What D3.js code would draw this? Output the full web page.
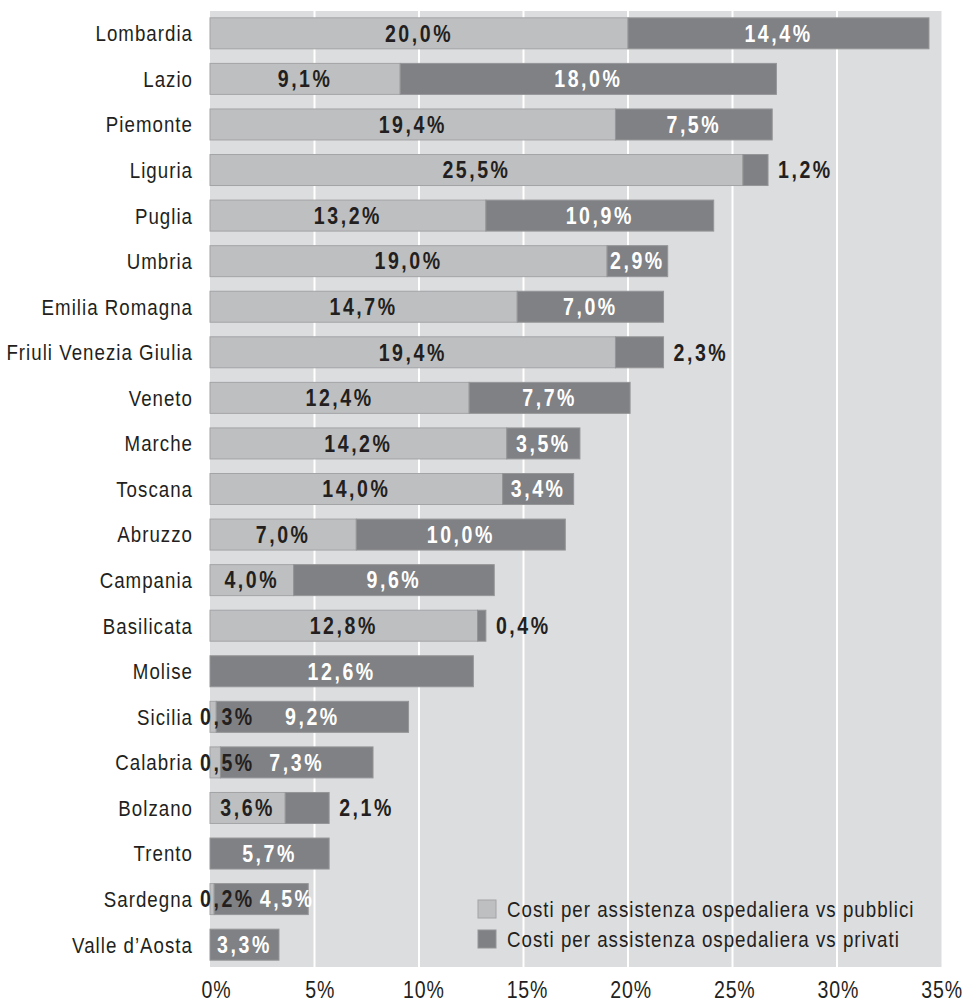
<!DOCTYPE html>
<html>
<head>
<meta charset="utf-8">
<script src="https://cdn.jsdelivr.net/npm/d3@7"></script>
<style>
  body { margin: 0; background: #fff; }
  text { font-family: "Liberation Sans", Arial, sans-serif; }
</style>
</head>
<body>
<script>
(function (d3) {
    'use strict';

    // dati
    var regioni = ['Lombardia', 'Lazio', 'Piemonte', 'Liguria', 'Puglia', 'Umbria',
        'Emilia Romagna', 'Friuli Venezia Giulia', 'Veneto', 'Marche', 'Toscana',
        'Abruzzo', 'Campania', 'Basilicata', 'Molise', 'Sicilia', 'Calabria',
        'Bolzano', 'Trento', 'Sardegna', 'Valle d\u2019Aosta'];
    var pubblici = [20.0, 9.1, 19.4, 25.5, 13.2, 19.0, 14.7, 19.4, 12.4, 14.2, 14.0,
        7.0, 4.0, 12.8, 0, 0.3, 0.5, 3.6, 0, 0.2, 0];
    var privati = [14.4, 18.0, 7.5, 1.2, 10.9, 2.9, 7.0, 2.3, 7.7, 3.5, 3.4,
        10.0, 9.6, 0.4, 12.6, 9.2, 7.3, 2.1, 5.7, 4.5, 3.3];
    var ticks = [0, 5, 10, 15, 20, 25, 30, 35];
    var legenda = ['Costi per assistenza ospedaliera vs pubblici',
        'Costi per assistenza ospedaliera vs privati'];

    var chiaro = '#bebfc1';
    var scuro = '#808184';
    var testo = '#231f20';
    var stretto = 0.85; // il font e' "condensed": schiaccio in orizzontale

    var width = 965, height = 1002;
    var svg = d3.select('body').append('svg')
        .attr('width', width)
        .attr('height', height);

    var data = regioni.map(function (r, i) {
        return { regione: r, pub: pubblici[i], priv: privati[i] };
    });

    var x = d3.scaleLinear().domain([0, 35]).range([210, 941.5]);
    var y = d3.scaleBand().domain(regioni).range([11, 967])
        .paddingInner(0.32).paddingOuter(0.15);

    var pos = function (px, py) {
        return 'translate(' + px + ',' + py + ') scale(' + stretto + ',1)';
    };

    // sfondo grigio
    svg.append('rect')
        .attr('x', x(0)).attr('y', 11)
        .attr('width', x(35) - x(0)).attr('height', 956)
        .attr('fill', '#dcdddf');

    // griglia bianca
    svg.selectAll('.grid').data(ticks.slice(1, -1))
        .enter().append('line')
        .attr('x1', function (d) { return x(d); })
        .attr('x2', function (d) { return x(d); })
        .attr('y1', 11).attr('y2', 967)
        .attr('stroke', '#fff').attr('stroke-width', 2);

    // etichette asse x
    svg.selectAll('.tick').data(ticks)
        .enter().append('text')
        .attr('transform', function (d) { return pos(x(d) + 6.5 - d * 0.17, 998); })
        .attr('text-anchor', 'middle')
        .style('font-size', '23px')
        .style('letter-spacing', '1px')
        .attr('fill', testo)
        .text(function (d) { return d + '%'; });

    // nomi delle regioni
    svg.selectAll('.cat').data(data)
        .enter().append('text')
        .attr('transform', function (d) { return pos(193, y(d.regione) + y.bandwidth() / 2); })
        .attr('dy', '0.36em')
        .attr('text-anchor', 'end')
        .style('font-size', '22px')
        .style('letter-spacing', '1.2px')
        .attr('fill', testo)
        .text(function (d) { return d.regione; });

    // barre
    var rows = svg.selectAll('.row').data(data)
        .enter().append('g')
        .attr('transform', function (d) { return 'translate(0,' + y(d.regione) + ')'; });

    rows.filter(function (d) { return d.pub > 0; })
        .append('rect')
        .attr('x', x(0))
        .attr('width', function (d) { return x(d.pub) - x(0); })
        .attr('height', y.bandwidth())
        .attr('fill', chiaro)
        .attr('stroke', '#a3a4a6').attr('stroke-width', 1);

    rows.append('rect')
        .attr('x', function (d) { return x(d.pub); })
        .attr('width', function (d) { return x(d.pub + d.priv) - x(d.pub); })
        .attr('height', y.bandwidth())
        .attr('fill', scuro)
        .attr('stroke', '#949597').attr('stroke-width', 1);

    var fmt = function (v) { return v.toFixed(1).replace('.', ',') + '%'; };
    var cy = y.bandwidth() / 2;

    var etichetta = function (g, s) {
        return g.append('text')
            .attr('dy', '0.36em')
            .style('font-size', '23px').style('font-weight', 'bold')
            .style('letter-spacing', '3px')
            .text(s);
    };

    rows.each(function (d) {
        var g = d3.select(this);
        var fineChiaro = null;

        if (d.pub > 0) {
            var t1 = etichetta(g, fmt(d.pub)).attr('fill', testo);
            if (d.pub < 1) {
                // valore troppo piccolo: etichetta a cavallo dell'inizio
                t1.attr('transform', pos(x(0) - 10, cy)).attr('text-anchor', 'start');
                fineChiaro = x(0) - 10 + t1.node().getComputedTextLength() * stretto;
            } else {
                t1.attr('transform', pos((x(0) + x(d.pub)) / 2, cy)).attr('text-anchor', 'middle');
            }
        }

        var t2 = etichetta(g, fmt(d.priv));
        var w = t2.node().getComputedTextLength() * stretto;
        var segW = x(d.pub + d.priv) - x(d.pub);
        if (segW < w) {
            // fuori dalla barra, a destra
            t2.attr('transform', pos(x(d.pub + d.priv) + 10, cy)).attr('text-anchor', 'start')
                .attr('fill', testo);
        } else {
            var cx = (x(d.pub) + x(d.pub + d.priv)) / 2;
            if (fineChiaro !== null) cx = Math.max(cx, fineChiaro + 5 + w / 2);
            t2.attr('transform', pos(cx, cy)).attr('text-anchor', 'middle').attr('fill', '#fff');
        }
    });

    // legenda
    var leg = svg.selectAll('.leg').data(legenda)
        .enter().append('g')
        .attr('transform', function (d, i) { return 'translate(478,' + (900 + i * 30) + ')'; });
    leg.append('rect')
        .attr('width', 18).attr('height', 18)
        .attr('fill', function (d, i) { return i === 0 ? chiaro : scuro; })
        .attr('stroke', function (d, i) { return i === 0 ? '#a3a4a6' : '#949597'; });
    leg.append('text')
        .attr('transform', pos(29, 9))
        .attr('dy', '0.36em')
        .style('font-size', '22px')
        .style('letter-spacing', '1.2px')
        .attr('fill', testo)
        .text(function (d) { return d; });

})(d3);
</script>
</body>
</html>
